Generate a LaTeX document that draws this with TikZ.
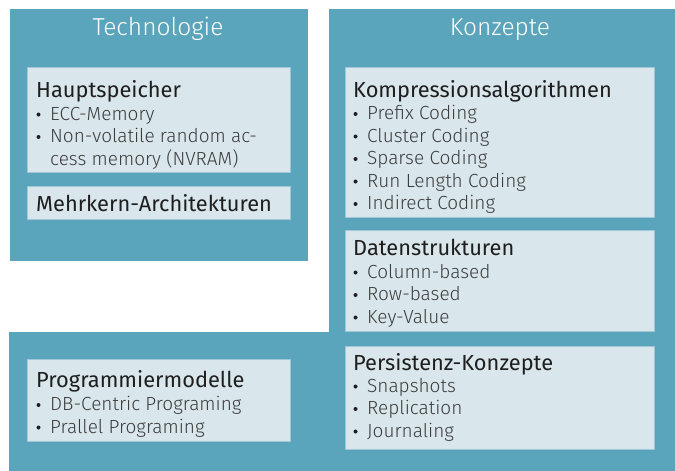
\documentclass[tikz,border=0pt]{standalone}
\usepackage{fontspec}
\setmainfont{Fira Sans}
\newfontfamily\firalight{Fira Sans Light}
\definecolor{teal}{HTML}{5AA5BB}
\definecolor{boxfill}{HTML}{D9E6EC}
\definecolor{boxline}{HTML}{9FC8D6}
\definecolor{titlecol}{HTML}{1E1E1E}
\definecolor{itemcol}{HTML}{3C3C3C}
\tikzset{
  panel/.style={fill=teal, draw=none},
  cbox/.style={fill=boxfill, draw=boxline, line width=0.8pt},
  head/.style={anchor=base, text=white, font=\firalight\fontsize{24.5}{29}\selectfont, inner sep=0pt},
  btitle/.style={anchor=base west, text=titlecol, font=\fontsize{21.8}{26}\selectfont, inner sep=0pt},
  bitem/.style={anchor=base west, text=itemcol, font=\firalight\fontsize{19}{23}\selectfont, inner sep=0pt},
  bdot/.style={circle, fill=titlecol, inner sep=0pt, minimum size=4pt},
}
\newcommand{\itemat}[4]{% name, x, baseline y, text
  \node[bitem] (#1) at (#2+14,#3) {#4};
  \node[bdot] (#1d) at (#2+2.5,#3-5.5) {};
}
\begin{document}
\begin{tikzpicture}[x=1pt,y=-1pt]
\useasboundingbox (0,0) rectangle (675,471);
% panels
\path[panel] (10,9) rectangle (308,261);
\path[panel] (329,9) -- (675,9) -- (675,471) -- (9,471) -- (9,332) -- (329,332) -- cycle;
\node[head] (tech) at (158,35) {Technologie};
\node[head] (konz) at (500,35) {Konzepte};
% boxes
\draw[cbox] (27,67) rectangle (290,172);
\draw[cbox] (27,186) rectangle (290,219);
\draw[cbox] (345,67) rectangle (654,217);
\draw[cbox] (345,230) rectangle (654,331);
\draw[cbox] (345,346) rectangle (654,449);
\draw[cbox] (27,359) rectangle (290,441);
% Hauptspeicher
\node[btitle] (haupt) at (36,97) {Hauptspeicher};
\itemat{h1}{36}{120}{ECC-Memory}
\itemat{h2}{36}{142.5}{Non-volatile random ac-}
\node[bitem] (h3) at (50,165) {cess memory (NVRAM)};
\node[btitle] (mehr) at (36,211.5) {Mehrkern-Architekturen};
% Kompression
\node[btitle] (komp) at (353,97) {Kompressionsalgorithmen};
\itemat{k1}{353}{119.5}{Prefix Coding}
\itemat{k2}{353}{142}{Cluster Coding}
\itemat{k3}{353}{164.5}{Sparse Coding}
\itemat{k4}{353}{187}{Run Length Coding}
\itemat{k5}{353}{209.5}{Indirect Coding}
% Datenstrukturen
\node[btitle] (daten) at (353,255) {Datenstrukturen};
\itemat{d1}{353}{278}{Column-based}
\itemat{d2}{353}{300.5}{Row-based}
\itemat{d3}{353}{323}{Key-Value}
% Persistenz
\node[btitle] (pers) at (353,370) {Persistenz-Konzepte};
\itemat{p1}{353}{392}{Snapshots}
\itemat{p2}{353}{414.5}{Replication}
\itemat{p3}{353}{437}{Journaling}
% Programmiermodelle
\node[btitle] (prog) at (36,387) {Programmiermodelle};
\itemat{g1}{36}{410.5}{DB-Centric Programing}
\itemat{g2}{36}{433}{Prallel Programing}
\end{tikzpicture}
\end{document}
